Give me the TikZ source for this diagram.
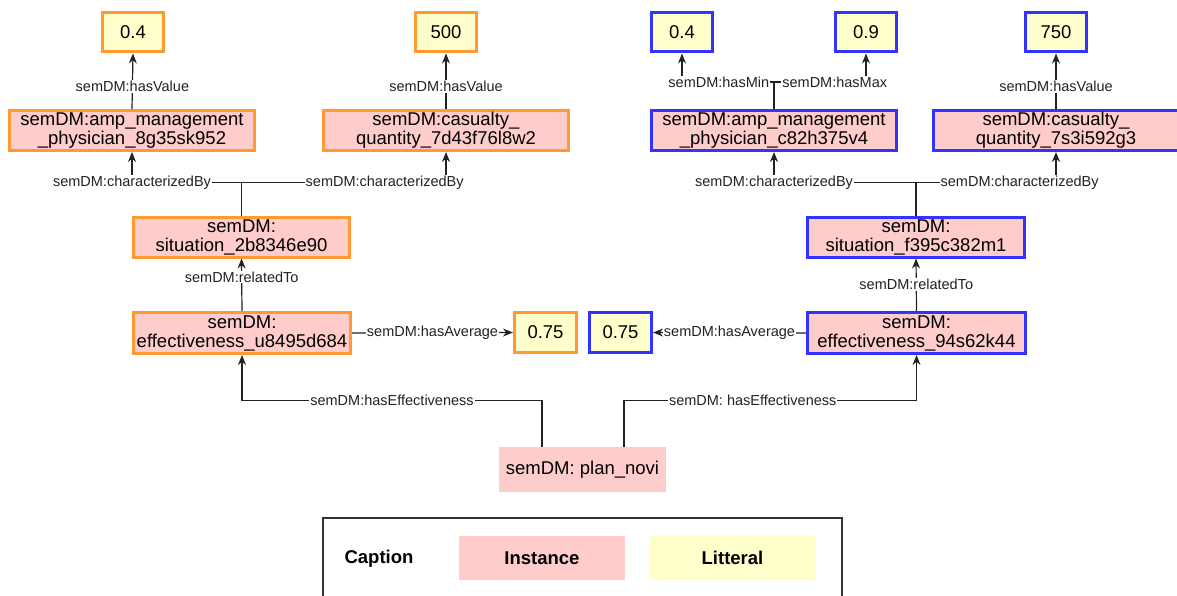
\documentclass[tikz,border=0pt]{standalone}
\usepackage{fontspec}
\setmainfont{Liberation Sans}
\usetikzlibrary{arrows.meta,positioning,calc}
\definecolor{Ink}{HTML}{222222}
\definecolor{Orange}{HTML}{FF9933}
\definecolor{Blue}{HTML}{3333FF}
\definecolor{SoftPink}{HTML}{FFCCCC}
\definecolor{SoftYellow}{HTML}{FFFFCC}
\definecolor{Frame}{HTML}{333333}
\tikzset{
 inst/.style={fill=SoftPink, minimum width=245pt, minimum height=40pt, align=center, inner sep=0pt, font=\fontsize{18.5}{19}\selectfont},
 orangeinst/.style={inst, draw=Orange, line width=3pt},
 blueinst/.style={inst, draw=Blue, line width=3pt},
 lit/.style={fill=SoftYellow, minimum width=61pt, minimum height=39pt, inner sep=0pt, font=\fontsize{18.5}{19}\selectfont},
 orangelit/.style={lit, draw=Orange, line width=3pt},
 bluelit/.style={lit, draw=Blue, line width=3pt},
 arrow/.style={-{Stealth[length=10pt,width=8pt]}, line width=1.2pt, draw=Ink},
 lbl/.style={fill=white, inner sep=1pt, text=Ink, font=\fontsize{14.5}{15}\selectfont}
}
\begin{document}
\begin{tikzpicture}[x=1pt,y=-1pt]
\useasboundingbox (0,0) rectangle (1177,596);
\node[orangelit] (litL) at (133,32.5) {0.4};
\node[orangelit] (lit500) at (446,32.5) {500};
\node[bluelit] (litMin) at (682,32.5) {0.4};
\node[bluelit] (litMax) at (866,32.5) {0.9};
\node[bluelit] (lit750) at (1056,32.5) {750};
\node[orangeinst] (ampL) at (132,130.5) {semDM:amp\_management\\\_physician\_8g35sk952};
\node[orangeinst] (casL) at (446,130.5) {semDM:casualty\_\\quantity\_7d43f76l8w2};
\node[blueinst] (ampR) at (774,130.5) {semDM:amp\_management\\\_physician\_c82h375v4};
\node[blueinst] (casR) at (1056,130.5) {semDM:casualty\_\\quantity\_7s3i592g3};
\node[orangeinst, minimum width=216pt] (sitL) at (241.5,237) {semDM:\\situation\_2b8346e90};
\node[blueinst, minimum width=217pt] (sitR) at (916,237) {semDM:\\situation\_f395c382m1};
\node[orangeinst, minimum width=217pt, minimum height=41pt] (effL) at (242,333) {semDM:\\effectiveness\_u8495d684};
\node[blueinst, minimum width=218pt, minimum height=41pt] (effR) at (916.5,333) {semDM:\\effectiveness\_94s62k44};
\node[orangelit, minimum width=62pt, minimum height=40pt] (avgL) at (545.5,332.5) {0.75};
\node[bluelit, minimum width=62pt, minimum height=40pt] (avgR) at (620.5,332.5) {0.75};
\node[inst, minimum width=167pt, minimum height=45pt] (plan) at (582.5,469.5) {semDM: plan\_novi};
\foreach \from/\to in {ampL/litL, casL/lit500, casR/lit750}
 \draw[arrow] (\from.north) -- node[lbl, pos=0.4] {semDM:hasValue} (\to.south);
\draw[arrow] (ampR.north) -- ++(0,-27) -| node[lbl, pos=0.3] {semDM:hasMin} (litMin.south);
\draw[arrow] (ampR.north) -- ++(0,-27) -| node[lbl, pos=0.33] {semDM:hasMax} (litMax.south);
\draw[arrow] (sitL.north) -- ++(0,-33) -| node[lbl, pos=0.5] {semDM:characterizedBy} (ampL.south);
\draw[arrow] (sitL.north) -- ++(0,-33) -| node[lbl, pos=0.35] {semDM:characterizedBy} (casL.south);
\draw[arrow] (sitR.north) -- ++(0,-33) -| node[lbl, pos=0.5] {semDM:characterizedBy} (ampR.south);
\draw[arrow] (sitR.north) -- ++(0,-33) -| node[lbl, pos=0.37] {semDM:characterizedBy} (casR.south);
\draw[arrow] (effL.north) -- node[lbl, pos=0.65] {semDM:relatedTo} (sitL.south);
\draw[arrow] (effR.north) -- node[lbl, pos=0.5] {semDM:relatedTo} (sitR.south);
\draw[arrow] (effL.east) -- node[lbl] {semDM:hasAverage} (avgL.west);
\draw[arrow] (effR.west) -- node[lbl] {semDM:hasAverage} (avgR.east);
\draw[arrow] ([xshift=-40.5pt]plan.north) -- ++(0,-46) -| node[lbl, pos=0.25] {semDM:hasEffectiveness} (effL.south);
\draw[arrow] ([xshift=41.5pt]plan.north) -- ++(0,-46) -| node[lbl, pos=0.22] {semDM: hasEffectiveness} (effR.south);
\node[draw=Frame, line width=2.5pt, minimum width=519pt, minimum height=120pt, inner sep=0pt] (legend) at (582.5,578) {};
\node[font=\fontsize{18.5}{19}\selectfont\bfseries] (captionlbl) at (379,559) {Caption};
\node[fill=SoftPink, minimum width=166pt, minimum height=44pt, font=\fontsize{18.5}{19}\selectfont\bfseries] (instkey) at (542,558) {Instance};
\node[fill=SoftYellow, minimum width=167pt, minimum height=44pt, font=\fontsize{18.5}{19}\selectfont\bfseries] (litkey) at (732.5,558) {Litteral};
\end{tikzpicture}
\end{document}
